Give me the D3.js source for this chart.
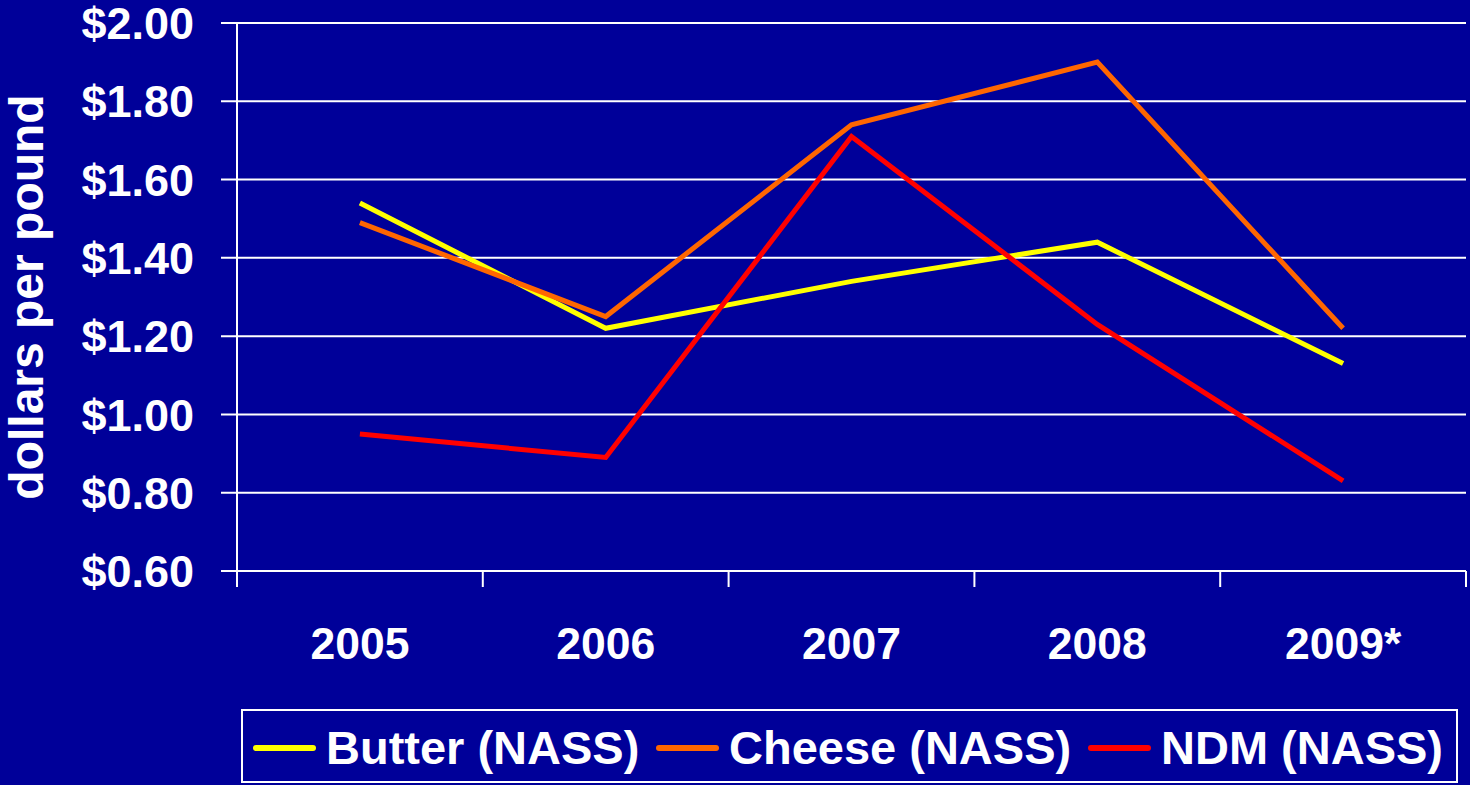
<!DOCTYPE html>
<html>
<head>
<meta charset="utf-8">
<script src="https://cdn.jsdelivr.net/npm/d3@7"></script>
<style>
  html, body { margin: 0; padding: 0; background: #000099; }
  svg { display: block; }
  text { font-family: "Liberation Sans", Arial, sans-serif; font-weight: bold; fill: #ffffff; }
</style>
</head>
<body>
<svg id="chart" width="1470" height="785"></svg>
<script>
// Annual average wholesale prices, dollars per pound
const years = ["2005", "2006", "2007", "2008", "2009*"];
const butter = [1.54, 1.22, 1.34, 1.44, 1.13];
const cheese = [1.49, 1.25, 1.74, 1.90, 1.22];
const ndm = [0.95, 0.89, 1.71, 1.23, 0.83];
const yTicks = [0.60, 0.80, 1.00, 1.20, 1.40, 1.60, 1.80, 2.00];

const series = [
  { name: "Butter (NASS)", values: butter, color: "#ffff00" },
  { name: "Cheese (NASS)", values: cheese, color: "#ff6600" },
  { name: "NDM (NASS)", values: ndm, color: "#ff0000" }
];

const svg = d3.select("#chart");
const plot = { left: 237, right: 1466, top: 23, bottom: 571 };

const x = d3.scaleBand().domain(years).range([plot.left, plot.right]);
const y = d3.scaleLinear().domain([0.6, 2.0]).range([plot.bottom, plot.top]);

// horizontal gridlines
svg.append("g")
  .selectAll("line")
  .data(yTicks)
  .join("line")
  .attr("x1", plot.left - 16)
  .attr("x2", plot.right)
  .attr("y1", d => y(d))
  .attr("y2", d => y(d))
  .attr("stroke", "#ffffff")
  .attr("stroke-width", 2);

// y axis line
svg.append("line")
  .attr("x1", plot.left).attr("x2", plot.left)
  .attr("y1", plot.top).attr("y2", plot.bottom + 16)
  .attr("stroke", "#ffffff").attr("stroke-width", 2);

// category ticks on the x axis
const boundaries = years.map(d => x(d)).concat([plot.right]);
svg.append("g")
  .selectAll("line")
  .data(boundaries)
  .join("line")
  .attr("x1", d => d).attr("x2", d => d)
  .attr("y1", plot.bottom).attr("y2", plot.bottom + 16)
  .attr("stroke", "#ffffff").attr("stroke-width", 2);

// y tick labels
svg.append("g")
  .selectAll("text")
  .data(yTicks)
  .join("text")
  .attr("x", 194)
  .attr("y", d => y(d))
  .attr("dy", "0.36em")
  .attr("text-anchor", "end")
  .style("font-size", "45px")
  .text(d => "$" + d.toFixed(2));

// x tick labels
svg.append("g")
  .selectAll("text")
  .data(years)
  .join("text")
  .attr("x", d => x(d) + x.bandwidth() / 2)
  .attr("y", 659)
  .attr("text-anchor", "middle")
  .style("font-size", "44.5px")
  .text(d => d);

// y axis title
svg.append("text")
  .attr("transform", "translate(43,297) rotate(-90)")
  .attr("text-anchor", "middle")
  .style("font-size", "48px")
  .text("dollars per pound");

// series lines
const line = d3.line()
  .x((d, i) => x(years[i]) + x.bandwidth() / 2)
  .y(d => y(d));

svg.append("g")
  .selectAll("path")
  .data(series)
  .join("path")
  .attr("d", d => line(d.values))
  .attr("fill", "none")
  .attr("stroke", d => d.color)
  .attr("stroke-width", 5)
  .attr("stroke-linejoin", "miter");

// legend
const legend = svg.append("g");
legend.append("rect")
  .attr("x", 242).attr("y", 710)
  .attr("width", 1215).attr("height", 72)
  .attr("fill", "none")
  .attr("stroke", "#ffffff").attr("stroke-width", 2);

const legendX = [256, 659, 1091];
series.forEach((s, i) => {
  legend.append("line")
    .attr("x1", legendX[i]).attr("x2", legendX[i] + 57)
    .attr("y1", 748).attr("y2", 748)
    .attr("stroke", s.color).attr("stroke-width", 6)
    .attr("stroke-linecap", "round");
  legend.append("text")
    .attr("x", legendX[i] + 70)
    .attr("y", 764)
    .style("font-size", "47px")
    .text(s.name);
});
</script>
</body>
</html>
